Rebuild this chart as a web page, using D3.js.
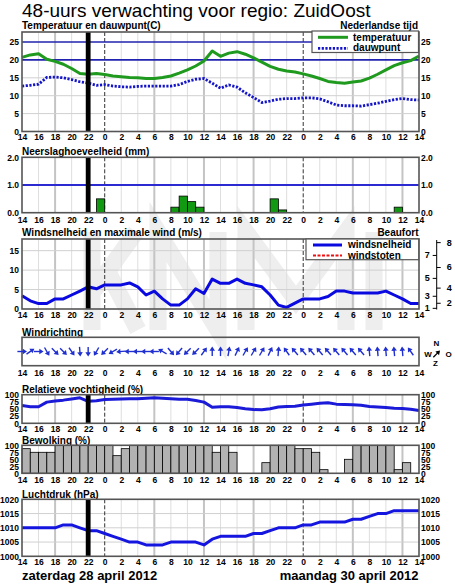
<!DOCTYPE html>
<html><head><meta charset="utf-8">
<script src="https://cdn.jsdelivr.net/npm/d3@7"></script>
<style>
body{margin:0;background:#fff}
svg{display:block}
text{font-family:"Liberation Sans",Arial,Helvetica,sans-serif}
</style>
</head><body>
<svg id="c" width="455" height="584"></svg>
<script>
// ---------------- DATA ----------------
const hourLabels = ["14","16","18","20","22","0","2","4","6","8","10","12","14","16","18","20","22","0","2","4","6","8","10","12","14"];
const nowHour = 8; // 22:00 marker
const temperature = [20.7,21.4,21.7,20.2,19.6,18.8,17.6,16.2,16.0,16.2,15.9,15.5,15.3,15.1,15.0,14.8,14.8,15.1,15.5,16.3,17.2,18.3,19.7,22.5,21.0,21.9,22.3,21.6,20.6,19.4,18.2,17.4,16.9,16.6,16.1,15.5,14.8,14.0,13.7,13.5,13.8,14.1,14.9,16.0,17.2,18.4,19.2,19.8,21.1];
const dewpoint = [12.7,12.9,13.2,15.1,15.2,15.0,14.5,13.9,13.5,12.9,13.1,12.7,12.5,12.4,12.6,12.7,12.7,12.7,12.7,13.1,14.0,14.6,14.8,13.5,12.1,13.0,12.4,10.8,9.5,8.1,8.5,9.0,9.2,9.2,9.4,9.4,9.1,8.3,7.4,7.2,7.2,7.1,7.5,7.9,8.4,8.9,9.2,8.9,8.8];
const precipitation = [0,0,0,0,0,0,0,0,0,0.5,0,0,0,0,0,0,0,0,0.2,0.6,0.4,0.2,0,0,0,0,0,0,0,0,0.5,0.1,0,0,0,0,0,0,0,0,0,0,0,0,0,0.2,0,0];
const windSpeed = [3.4,2.1,1.4,1.4,2.6,2.6,3.6,4.6,5.7,5.2,6.2,6.2,6.2,6.7,5.7,3.6,4.6,2.6,1.0,1.0,2.6,5.2,4.0,7.7,6.6,6.6,7.7,6.6,6.2,5.7,3.6,1.0,0.4,1.5,2.6,2.6,2.6,3.2,4.6,4.6,4.1,4.1,4.1,4.1,4.6,3.6,2.6,1.4,1.4];
const windDirection = [270,235,270,330,315,315,325,355,0,30,45,60,85,90,90,90,90,120,320,40,45,45,215,180,180,190,205,210,210,210,205,185,145,140,140,140,140,140,140,140,140,140,175,175,175,175,175,145];
const beaufortNumbers = [1,2,3,4,5,6,7,8];
const beaufortSpeeds = [0.3,1.6,3.4,5.5,8.0,10.8,13.9,17.2];
const humidity = [62,58,58,74,78,81,85,89,77,79,83,84,85,86,86,88,89,88,86,84,84,80,74,56,58,58,55,51,48,47,51,57,59,60,64,67,70,72,67,66,65,63,59,57,55,53,52,49,45];
const cloudCover = [88,75,75,75,100,100,100,100,100,100,100,63,88,100,100,100,100,100,100,100,100,100,100,75,100,75,0,0,0,38,100,100,100,88,88,75,13,0,0,50,100,100,100,100,100,13,38,0];
const pressure = [1010,1010,1010,1010,1010,1011,1011,1010,1009,1009,1008,1007,1006,1005,1005,1004,1004,1004,1005,1005,1005,1005,1004,1006,1007,1007,1007,1007,1008,1008,1009,1010,1010,1010,1011,1011,1012,1012,1012,1012,1013,1013,1014,1015,1015,1016,1016,1016,1016];

// ---------------- DRAW ----------------
const svg = d3.select("#c");
const FONT = "'Liberation Sans',Arial,Helvetica,sans-serif";
const hourTicks = d3.range(0, 49, 2);
const x = d3.scaleLinear().domain([0, 48]).range([22, 419]);

// watermark (KNMI logo letters, drawn as light strokes)
svg.append("path")
  .attr("d", "M92,232L92,330M94,290L136,232M108,272L138,330" +
             "M158,330L158,232L218,330L218,232" +
             "M246,330L246,232L296,300L346,232L346,330" +
             "M374,232L374,330")
  .attr("fill", "none").attr("stroke", "#eeeeee").attr("stroke-width", 17).attr("stroke-linejoin", "miter");

svg.append("text").attr("x", 22).attr("y", 17).attr("font-size", 19).attr("fill", "#000")
  .text("48-uurs verwachting voor regio: ZuidOost");

function styleAxis(sel, size) {
  sel.select(".domain").remove();
  sel.selectAll("text").attr("font-family", FONT).attr("font-size", size || 8.5).attr("font-weight", "bold").attr("fill", "#000");
}

function panel(p) {
  const y = d3.scaleLinear().domain(p.domain).range([p.bottom, p.top]);
  const g = svg.append("g");
  const vg = hourTicks.map((h, i) => ({h, lab: hourLabels[i]})).filter(d => d.h > 0 && d.h < 48 && d.lab !== "0");
  g.append("g").selectAll("line").data(vg).join("line")
    .attr("x1", d => x(d.h)).attr("x2", d => x(d.h)).attr("y1", p.top).attr("y2", p.bottom)
    .attr("stroke", d => ["6","12","18"].includes(d.lab) ? "#c4c4c4" : "#dedede")
    .attr("stroke-width", d => ["6","12","18"].includes(d.lab) ? 2 : 1);
  if (p.hgrid) {
    g.append("g").selectAll("line").data(p.hgrid).join("line")
      .attr("x1", x(0)).attr("x2", x(48)).attr("y1", d => y(d)).attr("y2", d => y(d))
      .attr("stroke", "#d0d0d0").attr("stroke-width", 1);
  }
  if (p.midnight !== false) {
    const mids = hourTicks.filter((h, i) => hourLabels[i] === "0");
    g.append("g").selectAll("line").data(mids).join("line")
      .attr("x1", d => x(d)).attr("x2", d => x(d)).attr("y1", p.top).attr("y2", p.bottom)
      .attr("stroke", "#333").attr("stroke-width", 1).attr("stroke-dasharray", "4,2");
  }
  g.append("text").attr("x", 22).attr("y", p.titleY).attr("font-size", 10).attr("font-weight", "bold").text(p.title);
  if (p.leftTicks) {
    const a = g.append("g").attr("transform", `translate(${x(0)},0)`)
      .call(d3.axisLeft(y).tickValues(p.leftTicks).tickFormat(p.fmt || (d => d)).tickSize(0).tickPadding(3));
    styleAxis(a);
  }
  if (p.rightTicks) {
    const a = g.append("g").attr("transform", `translate(${x(48)},0)`)
      .call(d3.axisRight(y).tickValues(p.rightTicks).tickFormat(p.fmt || (d => d)).tickSize(0).tickPadding(2));
    styleAxis(a);
  }
  const xa = g.append("g").attr("transform", `translate(0,${p.bottom})`)
    .call(d3.axisBottom(x).tickValues(hourTicks).tickFormat((d, i) => hourLabels[i]).tickSize(0).tickPadding(p.xpad));
  styleAxis(xa);
  const data = g.append("g");
  const over = g.append("g");
  if (p.now !== false) {
    over.append("rect").attr("x", x(nowHour) - 2.4).attr("width", 4.8).attr("y", p.top).attr("height", p.bottom - p.top).attr("fill", "#000");
  }
  over.append("rect").attr("x", x(0)).attr("y", p.top).attr("width", x(48) - x(0)).attr("height", p.bottom - p.top)
    .attr("fill", "none").attr("stroke", "#555").attr("stroke-width", 1.6);
  return {y, g, data, over};
}

const lineGen = y => d3.line().x((d, i) => x(i)).y(d => y(d));

// ---- Panel 1: temperature ----
const p1 = panel({top: 32, bottom: 131.5, domain: [0, 27.8], title: "Temperatuur en dauwpunt(C)", titleY: 28.5,
  leftTicks: [0,5,10,15,20,25], rightTicks: [0,5,10,15,20,25], hgrid: [5,10,15], xpad: 2.3});
p1.data.selectAll("line.ref").data([20, 25]).join("line").attr("class", "ref")
  .attr("x1", x(0)).attr("x2", x(48)).attr("y1", d => p1.y(d)).attr("y2", d => p1.y(d))
  .attr("stroke", "#2222b0").attr("stroke-width", 1.6);
p1.data.append("path").datum(dewpoint).attr("d", lineGen(p1.y)).attr("fill", "none")
  .attr("stroke", "#1515c8").attr("stroke-width", 2.8).attr("stroke-dasharray", "2.2,1.5");
p1.data.append("path").datum(temperature).attr("d", lineGen(p1.y)).attr("fill", "none")
  .attr("stroke", "#1f9a1f").attr("stroke-width", 3).attr("stroke-linejoin", "round");
svg.append("text").attr("x", 418).attr("y", 28.5).attr("text-anchor", "end").attr("font-size", 10).attr("font-weight", "bold").text("Nederlandse tijd");
const lg1 = svg.append("g");
lg1.append("rect").attr("x", 312).attr("y", 31).attr("width", 106.5).attr("height", 21.5).attr("fill", "#fff").attr("stroke", "#555").attr("stroke-width", 1.2);
lg1.append("line").attr("x1", 318).attr("x2", 348).attr("y1", 37.3).attr("y2", 37.3).attr("stroke", "#1f9a1f").attr("stroke-width", 3);
lg1.append("line").attr("x1", 318).attr("x2", 348).attr("y1", 48.3).attr("y2", 48.3).attr("stroke", "#1515c8").attr("stroke-width", 2.8).attr("stroke-dasharray", "2.2,1.5");
lg1.append("text").attr("x", 353).attr("y", 40.6).attr("font-size", 10).attr("font-weight", "bold").text("temperatuur");
lg1.append("text").attr("x", 353).attr("y", 51.2).attr("font-size", 10).attr("font-weight", "bold").text("dauwpunt");

// ---- Panel 2: precipitation ----
const p2 = panel({top: 157.3, bottom: 212.7, domain: [0, 2], title: "Neerslaghoeveelheid (mm)", titleY: 154.5,
  leftTicks: [0,1,2], rightTicks: [0,1,2], fmt: d3.format(".1f"), xpad: 4.3});
p2.data.append("line").attr("x1", x(0)).attr("x2", x(48)).attr("y1", p2.y(1)).attr("y2", p2.y(1))
  .attr("stroke", "#2a2ad0").attr("stroke-width", 1.8);
p2.data.selectAll("rect").data(precipitation.map((v, i) => ({v, i})).filter(d => d.v > 0)).join("rect")
  .attr("x", d => x(d.i)).attr("width", x(1) - x(0)).attr("y", d => p2.y(d.v)).attr("height", d => p2.y(0) - p2.y(d.v))
  .attr("fill", "#129912").attr("stroke", "#000").attr("stroke-width", 0.8);

// ---- Panel 3: wind ----
const p3 = panel({top: 239, bottom: 309, domain: [0, 18], title: "Windsnelheid en maximale wind (m/s)", titleY: 235.5,
  leftTicks: [0,5,10,15], hgrid: [5,10,15], xpad: 3.2});
p3.data.append("path").datum(windSpeed).attr("d", lineGen(p3.y)).attr("fill", "none")
  .attr("stroke", "#0a0ae0").attr("stroke-width", 3).attr("stroke-linejoin", "round");
svg.append("text").attr("x", 418.5).attr("y", 235.5).attr("text-anchor", "end").attr("font-size", 10).attr("font-weight", "bold").text("Beaufort");
const lg3 = svg.append("g");
lg3.append("rect").attr("x", 306).attr("y", 239).attr("width", 112.7).attr("height", 20.7).attr("fill", "#fff").attr("stroke", "#555").attr("stroke-width", 1.2);
lg3.append("line").attr("x1", 313).attr("x2", 342).attr("y1", 245).attr("y2", 245).attr("stroke", "#0a0ae0").attr("stroke-width", 3);
lg3.append("line").attr("x1", 313).attr("x2", 342).attr("y1", 255.5).attr("y2", 255.5).attr("stroke", "#ee1111").attr("stroke-width", 2).attr("stroke-dasharray", "3,1.5");
lg3.append("text").attr("x", 348).attr("y", 248.3).attr("font-size", 10).attr("font-weight", "bold").text("windsnelheid");
lg3.append("text").attr("x", 348).attr("y", 258.6).attr("font-size", 10).attr("font-weight", "bold").text("windstoten");
const bftX = 436.7;
svg.append("line").attr("x1", bftX).attr("x2", bftX).attr("y1", 240).attr("y2", 309.5).attr("stroke", "#000").attr("stroke-width", 1);
const bftScale = p3.y;
const bOdd = beaufortNumbers.map((b, i) => ({b, s: beaufortSpeeds[i]})).filter(d => d.b % 2 === 1);
const bEven = beaufortNumbers.map((b, i) => ({b, s: beaufortSpeeds[i]})).filter(d => d.b % 2 === 0);
const ba1 = svg.append("g").attr("transform", `translate(${bftX},0)`)
  .call(d3.axisLeft(bftScale).tickValues(bOdd.map(d => d.s)).tickFormat((d, i) => bOdd[i].b).tickSize(4).tickPadding(3));
styleAxis(ba1, 9);
const ba2 = svg.append("g").attr("transform", `translate(${bftX},0)`)
  .call(d3.axisRight(bftScale).tickValues(bEven.map(d => d.s)).tickFormat((d, i) => bEven[i].b).tickSize(4).tickPadding(6));
styleAxis(ba2, 9);

// ---- Panel 4: wind direction ----
const p4top = 337.3, p4bot = 365.7;
svg.append("text").attr("x", 22).attr("y", 336).attr("font-size", 10).attr("font-weight", "bold").text("Windrichting");
const xa4 = svg.append("g").attr("transform", `translate(0,${p4bot})`)
  .call(d3.axisBottom(x).tickValues(hourTicks).tickFormat((d, i) => hourLabels[i]).tickSize(0).tickPadding(4.2));
styleAxis(xa4);
svg.append("rect").attr("x", x(0)).attr("y", p4top).attr("width", x(48) - x(0)).attr("height", p4bot - p4top)
  .attr("fill", "none").attr("stroke", "#555").attr("stroke-width", 1.6);
const arrowY = (p4top + p4bot) / 2;
const arr = svg.append("g").selectAll("g").data(windDirection).join("g")
  .attr("transform", (d, i) => `translate(${x(i)},${arrowY}) rotate(${d + 180})`);
arr.append("line").attr("x1", 0).attr("x2", 0).attr("y1", 4.6).attr("y2", -2).attr("stroke", "#1f2fd0").attr("stroke-width", 1.4);
arr.append("path").attr("d", "M0,-5L-2.8,-0.8L2.8,-0.8Z").attr("fill", "#1f2fd0");
const cp = svg.append("g").attr("font-size", 8).attr("font-weight", "bold");
cp.append("text").attr("x", 436.5).attr("y", 346).attr("text-anchor", "middle").text("N");
cp.append("text").attr("x", 428).attr("y", 357).attr("text-anchor", "middle").text("W");
cp.append("text").attr("x", 448.5).attr("y", 357).attr("text-anchor", "middle").text("O");
cp.append("text").attr("x", 435.5).attr("y", 366).attr("text-anchor", "middle").text("Z");
const ca = cp.append("g").attr("transform", "translate(436.5,354) rotate(45)");
ca.append("line").attr("x1", 0).attr("x2", 0).attr("y1", 4.5).attr("y2", -2).attr("stroke", "#000").attr("stroke-width", 1.3);
ca.append("path").attr("d", "M0,-5L-2.6,-1L2.6,-1Z").attr("fill", "#000");

// ---- Panel 5: humidity ----
const p5 = panel({top: 394.7, bottom: 423.3, domain: [0, 100], title: "Relatieve vochtigheid (%)", titleY: 393.3,
  leftTicks: [0,25,50,75,100], rightTicks: [0,25,50,75,100], xpad: 2.6});
p5.data.append("path").datum(humidity).attr("d", lineGen(p5.y)).attr("fill", "none")
  .attr("stroke", "#1a1ad8").attr("stroke-width", 3).attr("stroke-linejoin", "round");

// ---- Panel 6: cloud cover ----
const p6 = panel({top: 445.3, bottom: 473.3, domain: [0, 100], title: "Bewolking (%)", titleY: 444,
  leftTicks: [0,25,50,75,100], rightTicks: [0,25,50,75,100], xpad: 3.2, now: false, midnight: false});
p6.data.selectAll("rect").data(cloudCover.map((v, i) => ({v, i})).filter(d => d.v > 0)).join("rect")
  .attr("x", d => x(d.i)).attr("width", x(1) - x(0)).attr("y", d => p6.y(d.v)).attr("height", d => p6.y(0) - p6.y(d.v))
  .attr("fill", "#b2b2b2").attr("stroke", "#000").attr("stroke-width", 0.8);

// ---- Panel 7: pressure ----
const p7 = panel({top: 499.3, bottom: 556.3, domain: [1000, 1020], title: "Luchtdruk (hPa)", titleY: 497.5,
  leftTicks: [1000,1005,1010,1015,1020], rightTicks: [1000,1005,1010,1015,1020], hgrid: [1005,1010,1015], xpad: 2.6});
p7.data.append("path").datum(pressure).attr("d", lineGen(p7.y)).attr("fill", "none")
  .attr("stroke", "#1515e0").attr("stroke-width", 3).attr("stroke-linejoin", "round");

svg.append("text").attr("x", 22).attr("y", 580).attr("font-size", 13).attr("font-weight", "bold").text("zaterdag 28 april 2012");
svg.append("text").attr("x", 418.5).attr("y", 580).attr("text-anchor", "end").attr("font-size", 13).attr("font-weight", "bold").text("maandag 30 april 2012");
</script>
</body></html>
